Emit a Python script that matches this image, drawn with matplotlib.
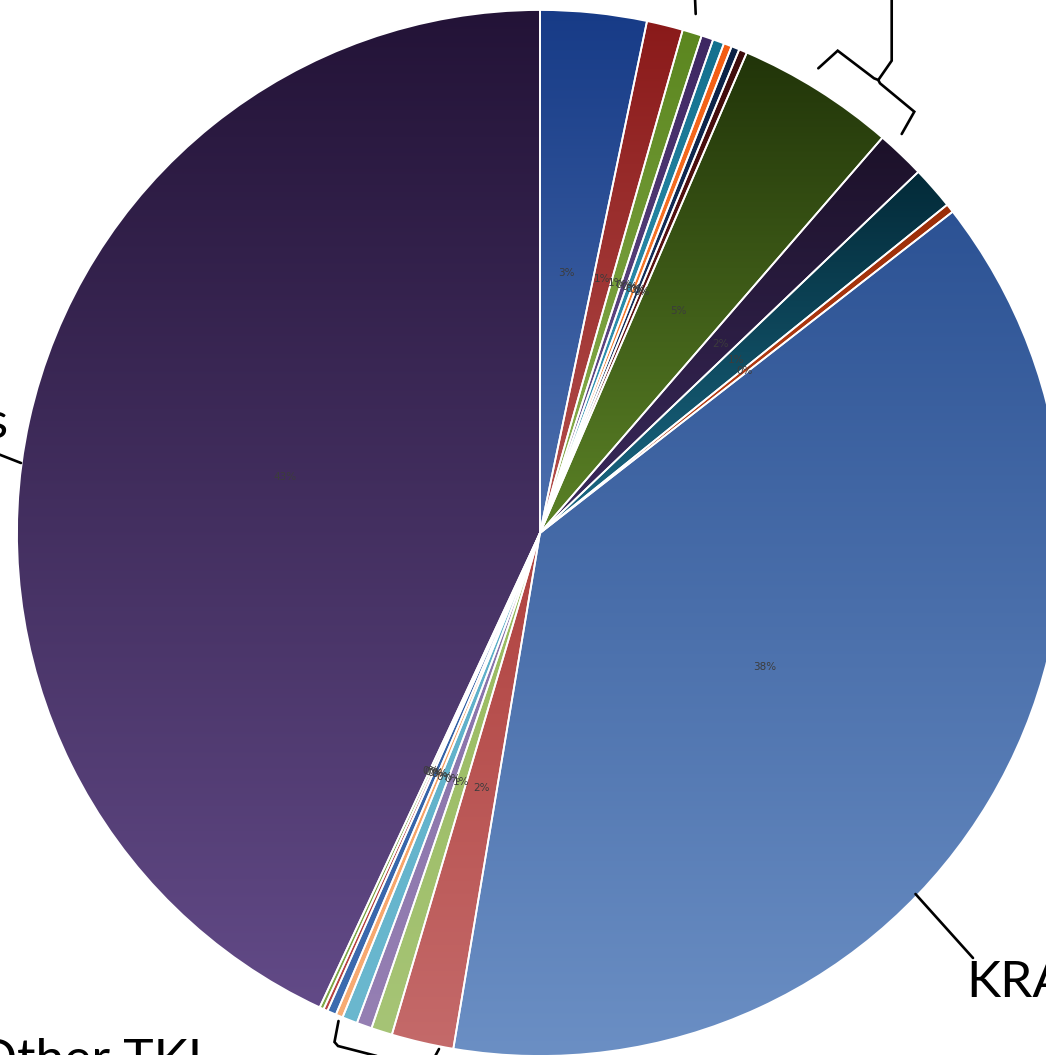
import numpy as np
import matplotlib
matplotlib.use("Agg")
import matplotlib.pyplot as plt
from matplotlib.colors import to_rgb

# Share of each treatment group (percent), clockwise from 12 o'clock
shares = [3.28, 1.12, 0.60, 0.37, 0.35, 0.25, 0.25, 0.25,
          4.89, 1.51, 1.33, 0.27,
          38.18,
          1.92, 0.65, 0.47, 0.47, 0.22, 0.28, 0.13, 0.13,
          43.08]

# Gradient fill for each slice: (top colour, bottom colour)
fills = [("#173b87", "#4d70ae"), ("#8a1a1a", "#b5504d"), ("#5b861f", "#8eb253"),
         ("#3e2762", "#6d5793"), ("#13708e", "#3fa2bf"), ("#f35c12", "#f79646"),
         ("#0c2246", "#1f3d6e"), ("#3e0c0c", "#7a1c1c"),
         ("#213409", "#5b8226"), ("#1c1129", "#3b2a5e"), ("#032a38", "#1b6a86"),
         ("#9a2e08", "#c6461c"),
         ("#2c5294", "#6b8fc4"),
         ("#b0423f", "#c46a6a"), ("#98ba5c", "#a6c476"), ("#8670a8", "#957fb3"),
         ("#5aaec8", "#6bb8cf"), ("#f59a58", "#f8ac74"), ("#2c5aa0", "#3e6cb0"),
         ("#a83232", "#b84444"), ("#6c9a30", "#80a848"),
         ("#231337", "#624a87")]

group_labels = ["KRAS", "Other TKI", "TKIs"]

W, H = 1046, 1055
fig = plt.figure(figsize=(W / 100, H / 100), dpi=100)
ax = fig.add_axes([0, 0, 1, 1])

cx, cy, R = 540, H - 533, 523

wedges, _, autotexts = ax.pie(
    shares, startangle=90, counterclock=False, radius=R, center=(cx, cy),
    autopct="%1.0f%%", pctdistance=0.5, frame=True,
    wedgeprops=dict(edgecolor="white", linewidth=1.3),
    textprops=dict(color="#3c3c3c", fontsize=7.5),
)

# Vertical gradient inside each slice, clipped to the wedge outline
for w, (top, bot) in zip(wedges, fills):
    ext = w.get_path().get_extents()
    t = np.linspace(0, 1, 256)[:, None]
    c0, c1 = np.array(to_rgb(bot)), np.array(to_rgb(top))
    grad = (c0[None, :] * (1 - t) + c1[None, :] * t)[:, None, :]
    im = ax.imshow(grad, extent=[ext.x0, ext.x1, ext.y0, ext.y1], origin="lower",
                   aspect="auto", interpolation="bilinear", zorder=w.get_zorder() + 0.1)
    im.set_clip_path(w)
    w.set_zorder(w.get_zorder() + 0.2)
    w.set_facecolor("none")

for t in autotexts:
    t.set_zorder(10)

def Y(y):
    return H - y

lk = dict(color="black", lw=1.9, solid_capstyle="round", solid_joinstyle="miter", zorder=12)

# KRAS leader
ax.plot([915.5, 973], [Y(894), Y(958)], **lk)
ax.text(966, Y(997), group_labels[0], fontsize=37, family="Lato", ha="left", va="baseline")

# Other TKI group brace along the lower rim
ax.plot([338.5, 334.5, 338, 400], [Y(1021), Y(1042), Y(1046), Y(1062)], **lk)
ax.plot([439, 432], [Y(1049), Y(1062)], **lk)
ax.text(-24, Y(1075), group_labels[1], fontsize=37, family="Lato", ha="left", va="baseline")

# Left label leader
ax.plot([-2, 21], [Y(454), Y(463)], **lk)
ax.text(8, Y(438), group_labels[2], fontsize=37, family="Lato", ha="right", va="baseline")

# Upper leaders and brace
ax.plot([695, 695.7], [Y(-2), Y(14)], **lk)
ax.plot([818.3, 837.7, 874, 878.3, 891.7, 891.7], [Y(68.3), Y(50.7), Y(78.3), Y(80), Y(60.7), Y(-2)], **lk)
ax.plot([878.3, 880, 914.3, 901.7], [Y(80), Y(83.3), Y(111.7), Y(134)], **lk)

ax.set_xlim(0, W)
ax.set_ylim(0, H)
ax.set_aspect("auto")
ax.axis("off")

fig.savefig("out.png", dpi=100, facecolor="white")
